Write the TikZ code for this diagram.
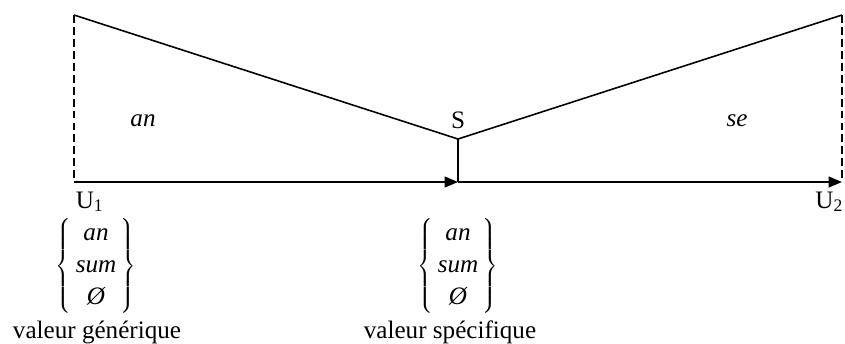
\documentclass[tikz,border=0pt]{standalone}
\usepackage{fontspec}
\setmainfont{Liberation Serif}
\usetikzlibrary{arrows.meta}

\newcommand{\valset}{$\renewcommand{\arraystretch}{1.07}\setlength{\arraycolsep}{2.5pt}%
  \left\{\begin{array}{c}\textit{an}\\ \textit{sum}\\ \textit{Ø}\end{array}\right\}$}

\begin{document}
\begin{tikzpicture}[
  x=0.02cm, y=-0.02cm,
  font=\fontsize{14.3}{17}\selectfont,
  line width=0.9pt,
  arr/.style={-{Triangle[length=2.7mm, width=2.2mm]}},
  side/.style={dash pattern=on 4.5pt off 2.3pt},
  lbl/.style={inner sep=0pt, anchor=base},
  val/.style={inner sep=0pt, align=center}
]
\useasboundingbox (0,0) rectangle (845,343);

% corners of the two slopes
\coordinate (tl) at (74,15);
\coordinate (tr) at (842,15);
\coordinate (u1) at (74,182);
\coordinate (u2) at (842,182);
\coordinate (m) at (458,182);
\coordinate (s) at (458,139);

% labels on the axis
\node[lbl, anchor=base west] (lu1) at (75,208) {U\textsubscript{1}};
\node[lbl, anchor=base east] (lu2) at (844,208) {U\textsubscript{2}};
\node[lbl] (ls) at (458,128) {S};
\node[lbl] (an) at (143,126) {\textit{an}};
\node[lbl] (se) at (737,126) {\textit{se}};

% value sets
\node[val] (gen) at (96,266) {\valset};
\node[val] (spe) at (458,266) {\valset};
\node[lbl] (vg) at (97,338) {valeur générique};
\node[lbl] (vs) at (450,338) {valeur spécifique};

\draw[side] (tl) -- (u1);
\draw (tl) -- (s) -- (tr);
\draw[side] (tr) -- (u2);
\draw (s) -- (m);
\draw[arr] (u1) -- (m);
\draw[arr] (m) -- (u2);
\end{tikzpicture}
\end{document}
